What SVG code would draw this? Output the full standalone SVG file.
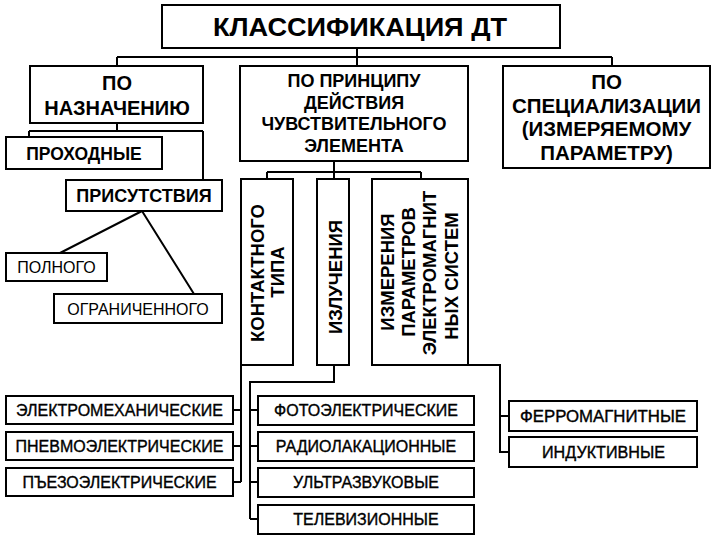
<svg xmlns="http://www.w3.org/2000/svg" width="720" height="540" viewBox="0 0 720 540">
<style>
rect{fill:#fff;stroke:#000;stroke-width:2}
text{font-family:"Liberation Sans",Arial,sans-serif;fill:#000;text-anchor:middle}
.b{font-weight:bold}
.s{font-size:16px}
.m{font-size:16px;stroke:#000;stroke-width:0.35}
.v{font-weight:bold;font-size:18.5px}
.c path{fill:none;stroke:#000;stroke-width:2}
</style>
<rect width="720" height="540" style="fill:#fff;stroke:none"/>
<g class="c" id="connectors">
<path d="M357 48V66M117 57H612M117 57V66M612 57V66"/>
<path d="M117 123V131M29 131H203M29 131V137M203 131V180"/>
<path d="M142 211L60 253M142 211L194 294"/>
<path d="M334 161V172M267 172H421M267 172V179M334 172V179M421 172V179"/>
<path d="M241 365V482M233 410H241M233 446H241M233 482H241"/>
<path d="M334 365V382H250V519M250 410H258M250 446H258M250 482H258M250 519H258"/>
<path d="M468 365H500V452H509M500 416H509"/>
</g>
<g id="title"><rect x="162" y="5" width="398" height="43"/><text class="b" x="360" y="36" font-size="25.5" textLength="294" lengthAdjust="spacingAndGlyphs">КЛАССИФИКАЦИЯ ДТ</text></g>
<g id="naznach"><rect x="30" y="66" width="173" height="57"/><text class="b" font-size="20" x="117" y="90">ПО</text><text class="b" font-size="20" x="117" y="115">НАЗНАЧЕНИЮ</text></g>
<g id="princip"><rect x="240" y="66" width="228" height="95"/><text class="b" font-size="18" x="354" y="87">ПО ПРИНЦИПУ</text><text class="b" font-size="18" x="354" y="108.5">ДЕЙСТВИЯ</text><text class="b" font-size="18" x="354" y="130">ЧУВСТВИТЕЛЬНОГО</text><text class="b" font-size="18" x="354" y="152">ЭЛЕМЕНТА</text></g>
<g id="special"><rect x="503" y="66" width="207" height="102"/><text class="b" font-size="20.5" x="606.5" y="89">ПО</text><text class="b" font-size="20.5" x="606.5" y="112.5">СПЕЦИАЛИЗАЦИИ</text><text class="b" font-size="20.5" x="606.5" y="136">(ИЗМЕРЯЕМОМУ</text><text class="b" font-size="20.5" x="606.5" y="159.5">ПАРАМЕТРУ)</text></g>
<g id="prohod"><rect x="6" y="137" width="156" height="32"/><text class="b" font-size="17.5" x="84" y="159.5">ПРОХОДНЫЕ</text></g>
<g id="prisut"><rect x="66" y="180" width="156" height="31"/><text class="b" font-size="18" x="144" y="202">ПРИСУТСТВИЯ</text></g>
<g id="polnogo"><rect x="6" y="253" width="101" height="28"/><text class="s" x="56.5" y="273">ПОЛНОГО</text></g>
<g id="ogranich"><rect x="54" y="294" width="168" height="29"/><text class="s" x="138" y="314.5" font-size="16.5">ОГРАНИЧЕННОГО</text></g>
<g id="kontakt"><rect x="241" y="179" width="52" height="186"/><text class="v" transform="translate(263.5 273) rotate(-90)">КОНТАКТНОГО</text><text class="v" transform="translate(283.5 272) rotate(-90)">ТИПА</text></g>
<g id="izluch"><rect x="317" y="179" width="32" height="186"/><text class="v" font-size="20" transform="translate(341.5 277) rotate(-90)">ИЗЛУЧЕНИЯ</text></g>
<g id="izmer"><rect x="372" y="179" width="96" height="186"/><text class="v" transform="translate(393.5 272) rotate(-90)">ИЗМЕРЕНИЯ</text><text class="v" transform="translate(414.5 272) rotate(-90)">ПАРАМЕТРОВ</text><text class="v" transform="translate(436 273) rotate(-90)">ЭЛЕКТРОМАГНИТ</text><text class="v" transform="translate(457.5 276) rotate(-90)">НЫХ СИСТЕМ</text></g>
<g id="elmeh"><rect x="6" y="396" width="227" height="28"/><text class="m" x="119.5" y="415.5">ЭЛЕКТРОМЕХАНИЧЕСКИЕ</text></g>
<g id="pnevmo"><rect x="6" y="432" width="227" height="28"/><text class="m" x="119.5" y="451.5">ПНЕВМОЭЛЕКТРИЧЕСКИЕ</text></g>
<g id="pezo"><rect x="6" y="468" width="227" height="28"/><text class="m" x="119.5" y="487.5">ПЪЕЗОЭЛЕКТРИЧЕСКИЕ</text></g>
<g id="foto"><rect x="258" y="396" width="216" height="29"/><text class="m" x="366" y="416">ФОТОЭЛЕКТРИЧЕСКИЕ</text></g>
<g id="radio"><rect x="258" y="432" width="216" height="29"/><text class="m" x="366" y="452">РАДИОЛАКАЦИОННЫЕ</text></g>
<g id="ultra"><rect x="258" y="468" width="216" height="29"/><text class="m" x="366" y="488">УЛЬТРАЗВУКОВЫЕ</text></g>
<g id="tele"><rect x="258" y="505" width="216" height="29"/><text class="m" x="366" y="525">ТЕЛЕВИЗИОННЫЕ</text></g>
<g id="ferro"><rect x="509" y="401" width="188" height="30"/><text class="m" x="603" y="422" textLength="166" lengthAdjust="spacingAndGlyphs">ФЕРРОМАГНИТНЫЕ</text></g>
<g id="induk"><rect x="509" y="437" width="188" height="30"/><text class="m" x="603.5" y="458" textLength="123" lengthAdjust="spacingAndGlyphs">ИНДУКТИВНЫЕ</text></g>
</svg>
